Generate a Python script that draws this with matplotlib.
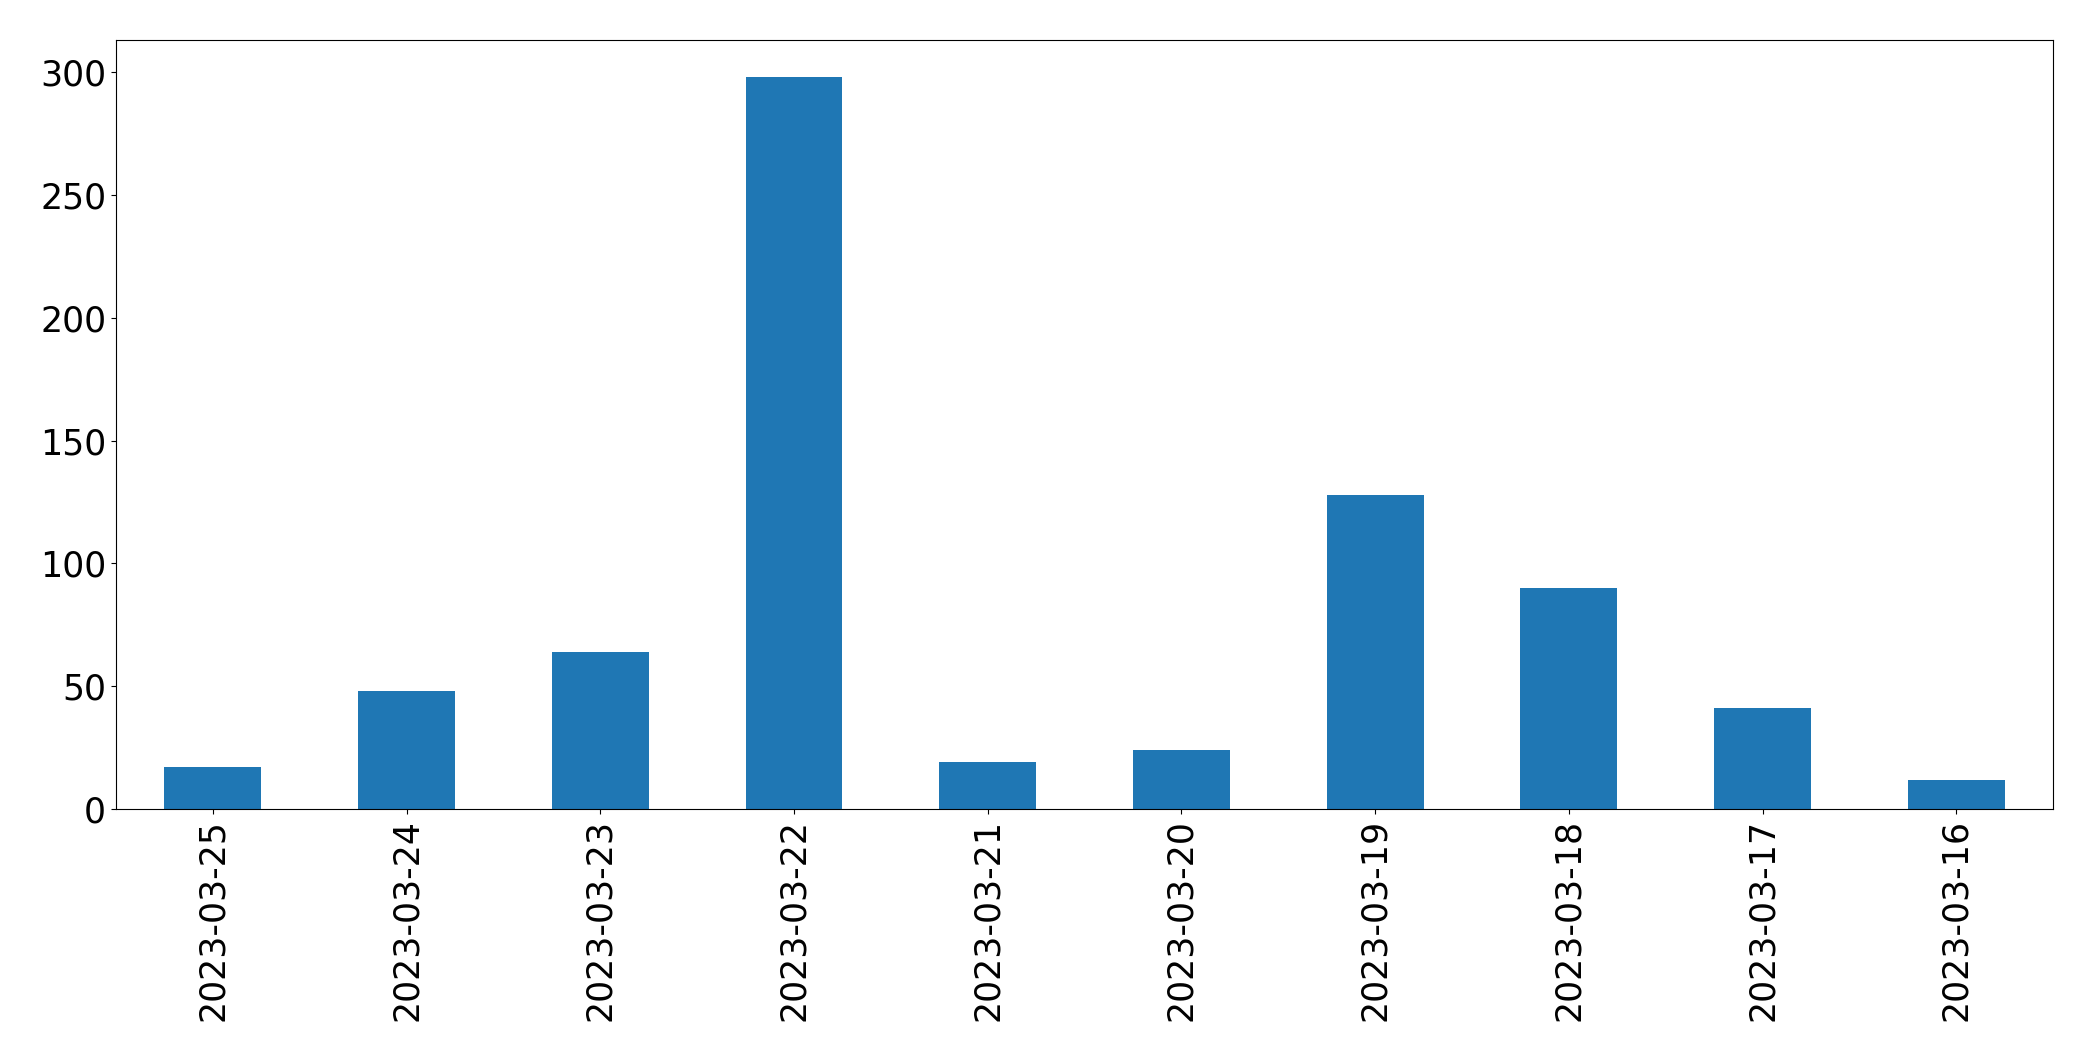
import matplotlib
matplotlib.use("Agg")
import matplotlib.pyplot as plt
import numpy as np

dates = ["2023-03-25", "2023-03-24", "2023-03-23", "2023-03-22", "2023-03-21",
         "2023-03-20", "2023-03-19", "2023-03-18", "2023-03-17", "2023-03-16"]
counts = [17, 48, 64, 298, 19, 24, 128, 90, 41, 12]

x = np.arange(len(dates))

fig = plt.figure(figsize=(20.93, 10.61), dpi=100)
ax = fig.add_subplot(111)
ax.bar(x, counts, width=0.5, color="#1f77b4")
ax.set_xticks(x)
ax.set_xticklabels(dates, rotation=90, fontsize=25)
ax.tick_params(axis="y", labelsize=25)
ax.set_xlim(-0.5, len(dates) - 0.5)
plt.subplots_adjust(left=0.0554, right=0.981, top=0.962, bottom=0.2375)
plt.savefig("out.png", dpi=100)
